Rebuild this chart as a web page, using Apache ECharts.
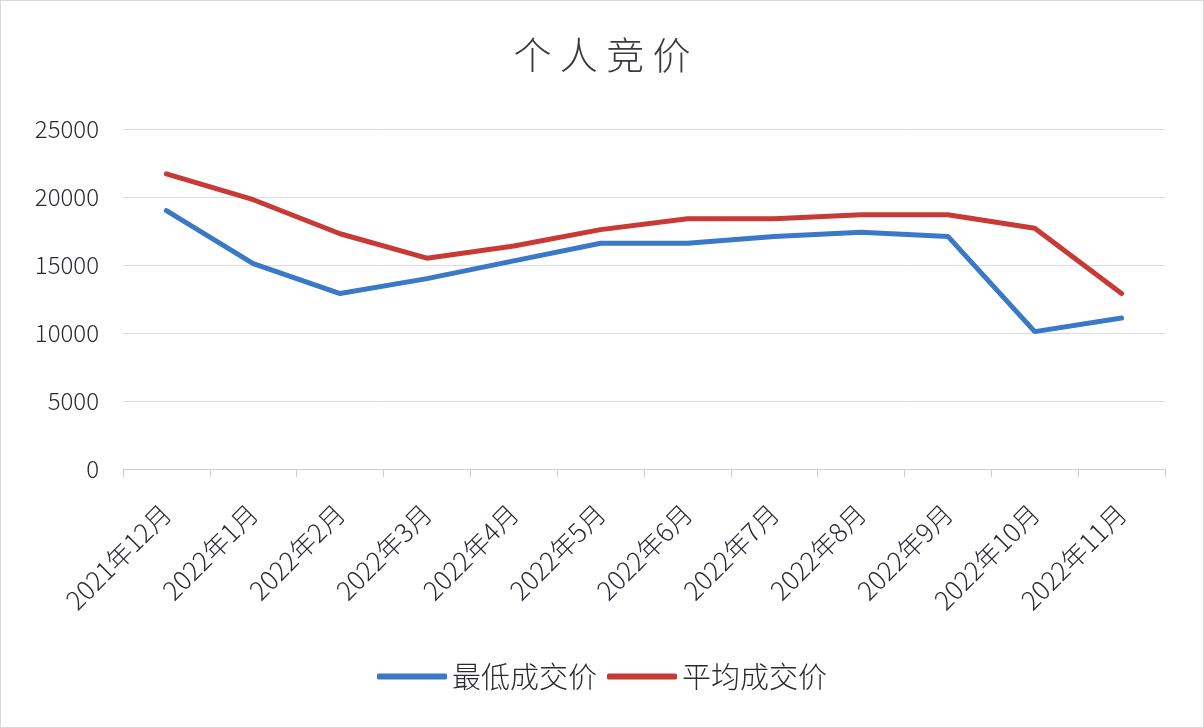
<!DOCTYPE html>
<html><head><meta charset="utf-8">
<script src="https://cdn.jsdelivr.net/npm/echarts@6/dist/echarts.min.js"></script>
<style>html,body{margin:0;padding:0;background:#fff}#c{width:1204px;height:728px;box-sizing:border-box;border:1px solid #d9d9d9}</style>
</head><body><div id="c"></div>
<script>
const categories = ['2021年12月','2022年1月','2022年2月','2022年3月','2022年4月','2022年5月','2022年6月','2022年7月','2022年8月','2022年9月','2022年10月','2022年11月'];
const minPrice = [19000,15100,12900,14000,15300,16600,16600,17100,17400,17100,10100,11100];
const avgPrice = [21700,19800,17300,15500,16400,17600,18400,18400,18700,18700,17700,12900];
const chart = echarts.init(document.getElementById('c'));
const font = '"Noto Sans CJK SC", sans-serif';
chart.setOption({
  animation:false,
  title:{text:'个 人 竞 价',left:'center',top:30,textStyle:{fontFamily:font,fontSize:38,fontWeight:300,color:'#3a3a44'}},
  legend:{bottom:31,left:'center',itemWidth:70,itemHeight:6,itemGap:10,icon:'roundRect',
    textStyle:{fontFamily:font,fontSize:29,fontWeight:300,color:'#2a2a34'},data:['最低成交价','平均成交价']},
  grid:{left:122,right:38,top:128,bottom:258,containLabel:false},
  xAxis:{type:'category',data:categories,boundaryGap:true,
    axisLine:{lineStyle:{color:'#d0d0d0',width:1}},
    axisTick:{show:true,alignWithLabel:false,length:8,lineStyle:{color:'#d0d0d0'}},
    axisLabel:{rotate:45,fontFamily:font,fontSize:26,fontWeight:300,color:'#2a2a3a',margin:40,interval:0}},
  yAxis:{type:'value',min:0,max:25000,interval:5000,
    axisLine:{show:false},axisTick:{show:false},
    splitLine:{lineStyle:{color:'#dadde6'}},
    axisLabel:{fontFamily:font,fontSize:24,fontWeight:300,color:'#2a2a3a',margin:24,formatter:v=>String(v)}},
  series:[
    {name:'最低成交价',type:'line',data:minPrice,symbol:'none',lineStyle:{width:5,color:'#3a78c8',cap:'round'},itemStyle:{color:'#3a78c8'}},
    {name:'平均成交价',type:'line',data:avgPrice,symbol:'none',lineStyle:{width:5,color:'#c83a36',cap:'round'},itemStyle:{color:'#c83a36'}}
  ]
});
</script></body></html>
